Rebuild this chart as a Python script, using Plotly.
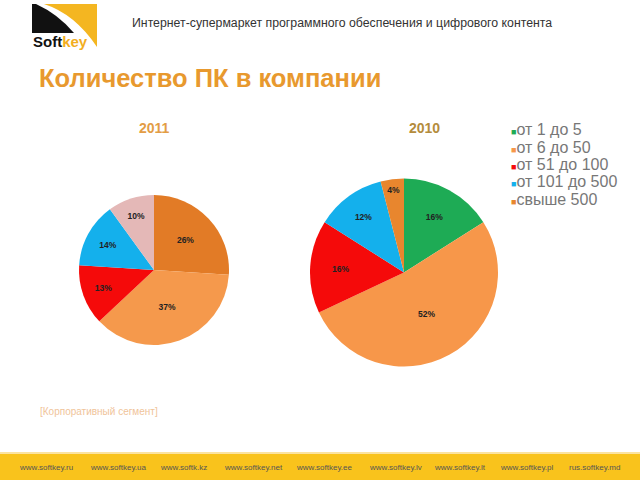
import plotly.graph_objects as go

labels = ["от 1 до 5", "от 6 до 50", "от 51 до 100", "от 101 до 500", "свыше 500"]
values_2010 = [16, 52, 16, 12, 4]
colors_2010 = ["#1EAB55", "#F7974A", "#F50A0A", "#14B0EC", "#E8862E"]

labels_2011 = ["свыше 500", "от 6 до 50", "от 51 до 100", "от 101 до 500", "от 1 до 5"]
values_2011 = [26, 37, 13, 14, 10]
colors_2011 = ["#E27B26", "#F5994C", "#F50A0A", "#14B0EC", "#E4B8B7"]

sites = ["www.softkey.ru", "www.softkey.ua", "www.softk.kz", "www.softkey.net", "www.softkey.ee",
         "www.softkey.lv", "www.softkey.lt", "www.softkey.pl", "rus.softkey.md"]
site_x = [46, 118, 183, 253, 324, 395, 460, 527, 594]

W, H = 640, 480


def px(x):
    return x / W


def py(y):
    return 1 - y / H


fig = go.Figure()

pie_font = dict(family="Liberation Sans, Arial", size=8.5, color="#222")

fig.add_trace(go.Pie(
    labels=labels_2011, values=values_2011, sort=False, direction="clockwise", rotation=0,
    marker=dict(colors=colors_2011, line=dict(width=0)),
    textinfo="percent", texttemplate="<b>%{percent:.0%}</b>", textposition="inside",
    insidetextorientation="horizontal", textfont=pie_font, showlegend=False,
    domain=dict(x=[px(79), px(229)], y=[py(347), py(193)]),
))

fig.add_trace(go.Pie(
    labels=labels, values=values_2010, sort=False, direction="clockwise", rotation=0,
    marker=dict(colors=colors_2010, line=dict(width=0)),
    textinfo="percent", texttemplate="<b>%{percent:.0%}</b>", textposition="inside",
    insidetextorientation="horizontal", textfont=pie_font, showlegend=False,
    domain=dict(x=[px(310), px(498)], y=[py(367), py(178)]),
))

shapes = [
    # footer band
    dict(type="rect", xref="paper", yref="paper", x0=0, x1=1, y0=0, y1=py(453),
         fillcolor="#F9C31C", line=dict(width=0), layer="below"),
    dict(type="rect", xref="paper", yref="paper", x0=0, x1=1, y0=py(454), y1=py(452),
         fillcolor="#FBE3A0", line=dict(width=0), layer="below"),
    # logo: yellow part
    dict(type="path", xref="paper", yref="paper", layer="below",
         path="M {},{} L {},{} L {},{} Q {},{} {},{} Z".format(
             px(44), py(4), px(97), py(4), px(97), py(47), px(75), py(14), px(44), py(4)),
         fillcolor="#F4B621", line=dict(width=0)),
    # logo: black part
    dict(type="path", xref="paper", yref="paper", layer="below",
         path="M {},{} L {},{} Q {},{} {},{} L {},{} Z".format(
             px(32), py(4), px(36), py(4), px(58), py(14), px(74), py(33), px(32), py(33)),
         fillcolor="#111111", line=dict(width=0)),
]

annotations = [
    dict(text="<b>Soft</b><span style='color:#F2AE1E'><b>key</b></span>", x=px(31), y=py(41),
         xanchor="left", yanchor="middle", showarrow=False,
         font=dict(family="Liberation Sans, Arial", size=15, color="#111")),
    dict(text="Интернет-супермаркет программного обеспечения и цифрового контента",
         x=px(130), y=py(23), xanchor="left", yanchor="middle", showarrow=False,
         font=dict(family="Liberation Sans, Arial", size=12.3, color="#333")),
    dict(text="<b>Количество ПК в компании</b>", x=px(37), y=py(78), xanchor="left", yanchor="middle",
         showarrow=False, font=dict(family="Liberation Sans, Arial", size=25.5, color="#E8992E")),
    dict(text="<b>2011</b>", x=px(154), y=py(128), xanchor="center", yanchor="middle", showarrow=False,
         font=dict(family="Liberation Sans, Arial", size=14, color="#E39D45")),
    dict(text="<b>2010</b>", x=px(424), y=py(128), xanchor="center", yanchor="middle", showarrow=False,
         font=dict(family="Liberation Sans, Arial", size=14, color="#B48C3C")),
    dict(text="[Корпоративный сегмент]", x=px(38), y=py(411), xanchor="left", yanchor="middle",
         showarrow=False, font=dict(family="Liberation Sans, Arial", size=10, color="#F0C49A")),
]

# legend drawn as text rows
for i, (lab, col) in enumerate(zip(labels, colors_2010)):
    annotations.append(dict(
        text="<span style='color:{};font-size:9px'>■</span>{}".format(col, lab),
        x=px(509), y=py(130 + i * 17.3), xanchor="left", yanchor="middle", showarrow=False,
        font=dict(family="Liberation Sans, Arial", size=16, color="#777")))

for s, x in zip(sites, site_x):
    annotations.append(dict(text=s, x=px(x), y=py(467), xanchor="center", yanchor="middle",
                            showarrow=False, font=dict(family="Liberation Sans, Arial", size=8, color="#555")))

fig.update_layout(
    width=W, height=H, autosize=False,
    margin=dict(l=0, r=0, t=0, b=0),
    paper_bgcolor="white", plot_bgcolor="white",
    shapes=shapes, annotations=annotations,
)

fig.write_html("out.html", config={"displayModeBar": False},
               post_script="document.body.style.margin='0';")
